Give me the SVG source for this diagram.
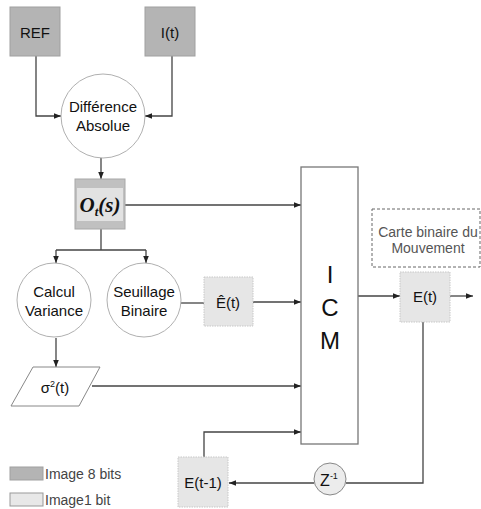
<svg xmlns="http://www.w3.org/2000/svg" width="481" height="509" viewBox="0 0 481 509">
<defs>
<style>
.t{font-family:"Liberation Sans",Arial,sans-serif;fill:#111;text-anchor:middle}
.dark{fill:#b4b4b4;stroke:#a0a0a0;stroke-width:1}
.light{fill:#e6e6e6;stroke:#c8c8c8;stroke-width:1;stroke-dasharray:1.5 1}
.circ{fill:#fff;stroke:#b0b0b0;stroke-width:1}
.ln{fill:none;stroke:#444;stroke-width:1.3}
</style>
<marker id="ah" viewBox="0 0 10 10" refX="10" refY="5" markerWidth="7" markerHeight="7" orient="auto" markerUnits="userSpaceOnUse">
<path d="M0,1 L10,5 L0,9 z" fill="#222"/>
</marker>
</defs>
<rect width="481" height="509" fill="#fff"/>
<g id="connectors">
<path class="ln" d="M36,56 V116 H61" marker-end="url(#ah)"/>
<path class="ln" d="M172,56 V116 H145" marker-end="url(#ah)"/>
<path class="ln" d="M101,158 V179" marker-end="url(#ah)"/>
<path class="ln" d="M125,205 H301" marker-end="url(#ah)"/>
<path class="ln" d="M101,229 V250"/>
<path class="ln" d="M56,250 H146"/>
<path class="ln" d="M56,250 V263" marker-end="url(#ah)"/>
<path class="ln" d="M146,250 V263" marker-end="url(#ah)"/>
<path class="ln" d="M181,303 H204"/>
<path class="ln" d="M253,302 H301" marker-end="url(#ah)"/>
<path class="ln" d="M56,338 V367" marker-end="url(#ah)"/>
<path class="ln" d="M92,386 H301" marker-end="url(#ah)"/>
<path class="ln" d="M204,457 V432 H301" marker-end="url(#ah)"/>
<path class="ln" d="M358,296 H400" marker-end="url(#ah)"/>
<path class="ln" d="M450,296 H473" marker-end="url(#ah)"/>
<path class="ln" d="M423,322 V483 H346"/>
<path class="ln" d="M314,483 H229" marker-end="url(#ah)"/>
</g>
<g id="ref"><rect class="dark" x="10" y="7" width="50" height="49"/><text class="t" x="35" y="38" font-size="15">REF</text></g>
<g id="it"><rect class="dark" x="145" y="7" width="50" height="49"/><text class="t" x="170" y="38" font-size="15">I(t)</text></g>
<g id="diff"><circle class="circ" cx="103" cy="116" r="42"/><text class="t" x="103" y="112" font-size="15">Différence</text><text class="t" x="103" y="131" font-size="15">Absolue</text></g>
<g id="ot"><rect x="75" y="179" width="50" height="50" fill="#c0c0c0" stroke="#a8a8a8"/><rect x="77" y="188" width="46" height="33" fill="#e2e2e2"/><text x="100" y="212" font-family="Liberation Serif,serif" font-style="italic" font-weight="bold" font-size="21" text-anchor="middle" fill="#111">O<tspan font-size="13" dy="4">t</tspan><tspan dy="-4">(s)</tspan></text></g>
<g id="calcul"><circle class="circ" cx="54" cy="300" r="37"/><text class="t" x="54" y="297" font-size="15">Calcul</text><text class="t" x="54" y="316" font-size="15">Variance</text></g>
<g id="seuil"><circle class="circ" cx="144" cy="300" r="37"/><text class="t" x="144" y="297" font-size="15">Seuillage</text><text class="t" x="144" y="316" font-size="15">Binaire</text></g>
<g id="ehat"><rect class="light" x="204" y="277" width="49" height="49"/><text class="t" x="228" y="308" font-size="15">Ê(t)</text></g>
<g id="icm"><rect x="301" y="167" width="57" height="277" fill="#fff" stroke="#777" stroke-width="1.3"/><text class="t" x="330" y="283" font-size="24">I</text><text class="t" x="330" y="316" font-size="24">C</text><text class="t" x="330" y="349" font-size="24">M</text></g>
<g id="carte"><rect x="372" y="209" width="108" height="58" fill="none" stroke="#666" stroke-width="1" stroke-dasharray="3 2"/><text class="t" x="428" y="237" font-size="14" style="fill:#555">Carte binaire du</text><text class="t" x="428" y="253" font-size="14" style="fill:#555">Mouvement</text></g>
<g id="et"><rect class="light" x="400" y="272" width="50" height="50"/><text class="t" x="425" y="302" font-size="15">E(t)</text></g>
<g id="sigma"><polygon points="33,367 100,367 79,406 11,406" fill="#fff" stroke="#888" stroke-width="1"/><text class="t" x="55" y="393" font-size="15">σ<tspan font-size="9" dy="-6">2</tspan><tspan dy="6">(t)</tspan></text></g>
<g id="z"><circle cx="330" cy="479" r="16" fill="#ececec" stroke="#888" stroke-width="1"/><text class="t" x="329" y="486" font-size="16">Z<tspan font-size="9" dy="-7">-1</tspan></text></g>
<g id="etm1"><rect class="light" x="178" y="457" width="50" height="50"/><text class="t" x="203" y="488" font-size="15">E(t-1)</text></g>
<g id="legend"><rect class="dark" x="10" y="467" width="33" height="13"/><text x="45" y="479" font-family="Liberation Sans,Arial,sans-serif" font-size="14" fill="#444">Image 8 bits</text><rect x="10" y="493" width="33" height="13" fill="#e8e8e8" stroke="#999"/><text x="45" y="505" font-family="Liberation Sans,Arial,sans-serif" font-size="14" fill="#444">Image1 bit</text></g>
</svg>
